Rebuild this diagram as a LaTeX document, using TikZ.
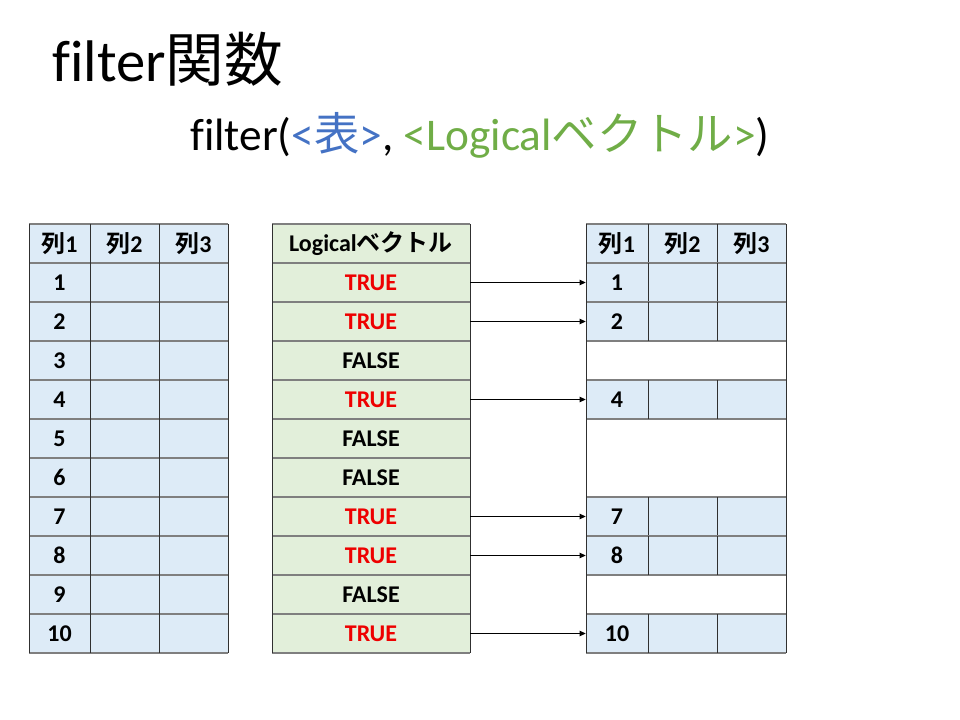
\documentclass[tikz,border=0pt]{standalone}
\usepackage{fontspec}
\setmainfont{Carlito}[Ligatures=CommonOff]
\newfontfamily\jp{Noto Sans CJK JP}[BoldFont=Noto Sans CJK JP Bold]
\usetikzlibrary{arrows.meta}

\definecolor{cellblue}{HTML}{DDEBF7}
\definecolor{cellgreen}{HTML}{E2EFDA}
\definecolor{truered}{HTML}{EE0000}
\definecolor{argblue}{HTML}{4472C4}
\definecolor{arggreen}{HTML}{70AD47}
\definecolor{hgray}{HTML}{7F7F7F}
\definecolor{vgray}{HTML}{303030}

\begin{document}
\begin{tikzpicture}[x=0.75pt, y=-0.75pt,
    cell/.style={inner sep=0pt, minimum height=29.25pt, font=\bfseries\fontsize{18}{21}\selectfont},
    bcell/.style={cell, fill=cellblue},
    gcell/.style={cell, fill=cellgreen, minimum width=148.5pt},
    hrule/.style={hgray, line width=1.2pt},
    vrule/.style={vgray, line width=0.7pt},
    arr/.style={-{Triangle[length=4.5pt, width=4pt]}, line width=0.75pt}]
    \useasboundingbox (0,0) rectangle (960,720);
    % Draw title
    \node[anchor=base west, inner sep=0pt, font=\fontsize{44}{50}\selectfont] (title) at (52,82) {filter{\jp 関数}};
    \node[anchor=base west, inner sep=0pt, font=\fontsize{34}{40}\selectfont] (call) at (190,151)
        {filter(\textcolor{argblue}{<{\jp 表}>}, \textcolor{arggreen}{<Logical{\jp ベクトル}>})};
    % Draw input table
    \foreach \c/\x/\w in {1/59.5/45.75pt, 2/124.5/51.75pt, 3/193.5/51.75pt} {
        \node[bcell, minimum width=\w] (L0-\c) at (\x,243.5) {{\jp 列}\c};
        \foreach \i in {1,...,10}
            \node[bcell, minimum width=\w] (L\i-\c) at (\x,{243.5+39*\i}) {\ifnum\c=1 \i\fi};
    }
    \foreach \i in {0,...,11}
        \draw[hrule] (29,{224+39*\i}) -- (228,{224+39*\i});
    \foreach \x in {29,90,159,228}
        \draw[vrule] (\x,224) -- (\x,653);
    % Draw logical vector
    \node[gcell] (V0) at (371,243.5) {Logical{\jp ベクトル}};
    \foreach \i/\v/\c in {1/TRUE/truered, 2/TRUE/truered, 3/FALSE/black, 4/TRUE/truered, 5/FALSE/black,
                          6/FALSE/black, 7/TRUE/truered, 8/TRUE/truered, 9/FALSE/black, 10/TRUE/truered}
        \node[gcell, text=\c] (V\i) at (371,{243.5+39*\i}) {\v};
    \foreach \i in {0,...,11}
        \draw[hrule] (272,{224+39*\i}) -- (470,{224+39*\i});
    \foreach \x in {272,470}
        \draw[vrule] (\x,224) -- (\x,653);
    % Draw filtered table
    \foreach \c/\x/\w in {1/617/46.5pt, 2/682.5/51.75pt, 3/751.5/51.75pt}
        \node[bcell, minimum width=\w] (R0-\c) at (\x,243.5) {{\jp 列}\c};
    \foreach \i in {1,2,4,7,8,10} {
        \foreach \c/\x/\w in {1/617/46.5pt, 2/682.5/51.75pt, 3/751.5/51.75pt}
            \node[bcell, minimum width=\w] (R\i-\c) at (\x,{243.5+39*\i}) {\ifnum\c=1 \i\fi};
    }
    \foreach \i in {0,1,2,4,7,8,10} {
        \draw[hrule] (586,{224+39*\i}) -- (786,{224+39*\i});
        \draw[hrule] (586,{263+39*\i}) -- (786,{263+39*\i});
        \foreach \x in {648,717}
            \draw[vrule] (\x,{224+39*\i}) -- (\x,{263+39*\i});
    }
    \foreach \x in {586,786}
        \draw[vrule] (\x,224) -- (\x,653);
    % Draw arrows for TRUE rows
    \foreach \i in {1,2,4,7,8,10}
        \draw[arr] (V\i.east) -- (R\i-1.west);
\end{tikzpicture}
\end{document}
